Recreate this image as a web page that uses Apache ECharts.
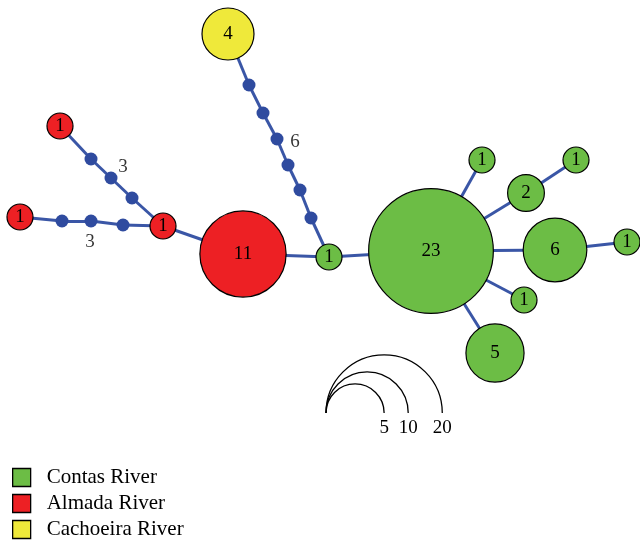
<!DOCTYPE html>
<html><head><meta charset="utf-8">
<script src="https://cdn.jsdelivr.net/npm/echarts@6/dist/echarts.min.js"></script>
<style>html,body{margin:0;padding:0;background:#fff}#c{width:640px;height:545px}</style>
</head><body><div id="c"></div>
<script>
// Haplotype network data
const rivers = ['Contas River', 'Almada River', 'Cachoeira River'];
const riverColors = ['#6cbd45', '#ed2024', '#efe93a'];
// river index: 0 Contas, 1 Almada, 2 Cachoeira, -1 median vector (missing haplotype)
const nodeRiver = [1, 0, 0, 2, 1, 1, 1, 0, 0, 0, 0, 0, 0, 0,
  -1, -1, -1, -1, -1, -1, -1, -1, -1, -1, -1, -1];
const nodeCount = [11, 1, 23, 4, 1, 1, 1, 1, 2, 1, 6, 1, 1, 5,
  0, 0, 0, 0, 0, 0, 0, 0, 0, 0, 0, 0];
// network layout coordinates (layout units)
const nodeX = [243, 329, 431, 228, 163, 60, 20, 482, 526, 576, 555, 627, 524, 495,
  249, 263, 277, 288, 300, 311, 91, 111, 132, 62, 91, 123];
const nodeY = [254, 257, 251, 34, 226, 126, 217, 160, 193, 160, 250, 242, 300, 353,
  85, 113, 139, 165, 190, 218, 159, 178, 198, 221, 221, 225];
const links = [[4, 0], [0, 1], [1, 2], [2, 7], [2, 8], [8, 9], [2, 10], [10, 11], [2, 12], [2, 13],
  [3, 14], [14, 15], [15, 16], [16, 17], [17, 18], [18, 19], [19, 1],
  [5, 20], [20, 21], [21, 22], [22, 4],
  [6, 23], [23, 24], [24, 25], [25, 4]];
// mutation step labels
const stepLabels = ['3', '3', '6'];
const stepX = [123, 90, 295];
const stepY = [167, 242, 142];
// circle-size scale
const scaleValues = [5, 10, 20];
const scaleAnchor = [326, 413];

const K = 13; // radius per sqrt(count)
const serif = '"Liberation Serif", "DejaVu Serif", serif';

const chart = echarts.init(document.getElementById('c'));

const nodes = nodeX.map((x, i) => {
  const r = nodeRiver[i];
  if (r < 0) {
    return { value: [x, nodeY[i]], symbolSize: 13,
      itemStyle: { color: '#2f4b9f', borderWidth: 0 }, label: { show: false } };
  }
  return {
    name: 'h' + i, value: [x, nodeY[i]],
    symbolSize: 2 * K * Math.sqrt(nodeCount[i]),
    itemStyle: { color: riverColors[r], borderColor: '#000', borderWidth: 1.2 },
    label: { show: true, formatter: String(nodeCount[i]) }
  };
});

const option = {
  animation: false,
  grid: { left: 0, right: 0, top: 0, bottom: 0 },
  xAxis: { type: 'value', min: 0, max: 640, show: false },
  yAxis: { type: 'value', min: 0, max: 545, inverse: true, show: false },
  legend: {
    orient: 'vertical', left: 12, top: 467, height: 120, padding: 0,
    itemWidth: 18, itemHeight: 18, itemGap: 5,
    icon: 'rect', selectedMode: false,
    itemStyle: { borderColor: '#000', borderWidth: 1.3, opacity: 1 },
    textStyle: { fontFamily: serif, fontSize: 21, lineHeight: 18, color: '#000', padding: [0, 0, 0, 11] },
    data: rivers
  },
  series: [
    {
      type: 'graph', layout: 'none', coordinateSystem: 'cartesian2d',
      silent: true, z: 2,
      data: nodes,
      links: links.map(l => ({ source: l[0], target: l[1] })),
      lineStyle: { color: '#3a56a6', width: 3, opacity: 1, curveness: 0 },
      label: { fontFamily: serif, fontSize: 19, color: '#000', position: 'inside' },
      emphasis: { disabled: true }
    },
    {
      type: 'scatter', silent: true, symbolSize: 0,
      data: stepLabels.map((t, i) => ({ value: [stepX[i], stepY[i]], label: { formatter: t } })),
      label: { show: true, position: 'inside', fontFamily: serif, fontSize: 19, color: '#000' }
    }
  ].concat(rivers.map((n, i) => ({
    name: n, type: 'scatter', data: [],
    itemStyle: { color: riverColors[i], opacity: 1 }
  })))
};
chart.setOption(option);

// scale arcs
const graphics = [];
scaleValues.forEach(v => {
  const r = K * Math.sqrt(v);
  const p0 = chart.convertToPixel({ gridIndex: 0 }, scaleAnchor);
  const pc = chart.convertToPixel({ gridIndex: 0 }, [scaleAnchor[0] + r, scaleAnchor[1]]);
  const rp = pc[0] - p0[0];
  graphics.push({
    type: 'arc', silent: true,
    shape: { cx: pc[0], cy: pc[1], r: rp, startAngle: Math.PI, endAngle: 2 * Math.PI, clockwise: true },
    style: { stroke: '#000', lineWidth: 1.3, fill: null }
  });
  graphics.push({
    type: 'text', silent: true, x: pc[0] + rp, y: pc[1] + 15,
    style: { text: String(v), font: '19px ' + serif, fill: '#000', align: 'center', verticalAlign: 'middle' }
  });
});
chart.setOption({ graphic: graphics });
</script></body></html>
